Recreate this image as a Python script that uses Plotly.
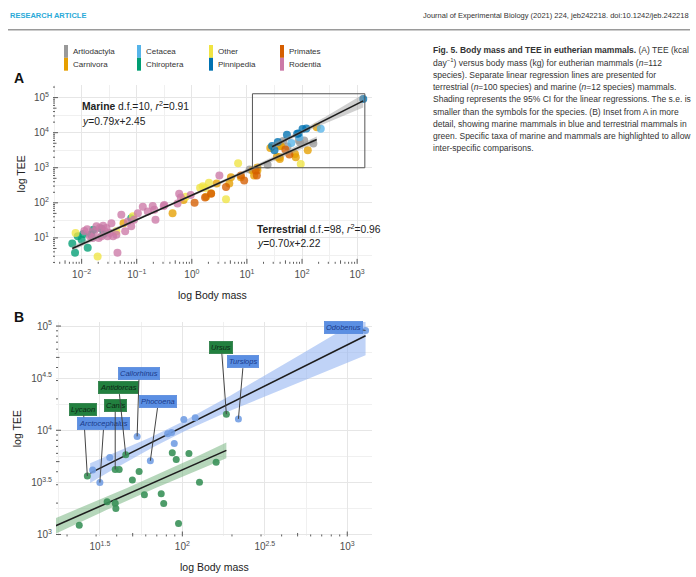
import numpy as np
import plotly.graph_objects as go

# ---------------- species data: log10 body mass (kg), log10 TEE (kcal/day) ----------------
artiodactyla_mass = [1.05, 1.375, 1.657, 1.738, 1.939, 1.963, 2.040, 2.205]
artiodactyla_tee = [2.95, 3.089, 3.764, 3.605, 3.783, 3.719, 3.777, 3.694]

carnivora_mass = [-1.24, -0.35, -0.15, 0.26, 0.35, 0.45, 0.68, 0.71, 0.89, 1.10, 1.13, 1.19, 1.19,
                  1.424, 1.544, 1.593, 1.593, 1.597, 1.617, 1.872, 1.887, 2.104, 2.267]
carnivora_tee = [1.42, 1.70, 2.08, 2.17, 2.27, 2.55, 2.55, 2.73, 2.73, 2.92, 2.78, 2.92, 3.01,
                 3.561, 3.314, 3.624, 3.30, 3.25, 3.624, 3.390, 3.298, 3.501, 4.154]

cetacea_mass = [1.806, 1.951, 2.340]
cetacea_tee = [3.707, 3.872, 4.109]

chiroptera_mass = [-2.17, -2.12, -2.07, -2.00, -1.97, -1.89, -1.79, -1.64, -1.60, -1.10, -1.83]
chiroptera_tee = [0.84, 0.58, 1.05, 0.95, 1.11, 0.72, 1.23, 1.26, 1.12, 1.56, 1.10]

other_mass = [-2.11, -1.71, -1.37, -1.07, -0.11, 0.15, 0.20, 0.24, 0.31, 0.62, 0.84, 1.977]
other_tee = [1.14, 0.47, 1.19, 1.62, 2.17, 2.43, 2.47, 2.42, 2.57, 2.10, 3.13, 3.105]

pinnipedia_mass = [1.456, 1.50, 1.56, 1.726, 1.911, 1.935, 2.009, 2.078, 3.111]
pinnipedia_tee = [3.618, 3.498, 3.738, 3.941, 3.967, 3.979, 4.103, 4.119, 4.958]

primates_mass = [0.05, 0.24, 0.35, 0.62, 0.89, 0.95, 1.16, 1.18, 1.697, 1.770]
primates_tee = [2.00, 2.15, 2.26, 2.45, 2.78, 2.64, 2.92, 2.78, 3.523, 3.380]

rodentia_mass = [-1.95, -1.90, -1.85, -1.80, -1.77, -1.73, -1.69, -1.67, -1.64, -1.61,
                 -1.58, -1.55, -1.53, -1.49, -1.46, -1.43, -1.37, -1.35, -1.28, -1.21,
                 -1.16, -1.10, -1.05, -0.98, -0.89, -0.80, -0.71, -0.68, -0.66, -0.51,
                 -0.50, -0.26, -0.23, -0.20, -0.02, 0.50]
rodentia_tee = [1.20, 1.25, 1.05, 1.00, 1.19, 1.33, 1.00, 1.28, 1.05, 1.35,
                1.18, 1.28, 1.05, 1.14, 1.42, 1.05, 1.09, 0.58, 1.66, 1.19,
                1.47, 1.33, 1.52, 1.70, 1.89, 1.75, 1.91, 1.80, 1.52, 1.91,
                1.94, 1.98, 2.26, 2.15, 2.22, 2.78]

orders = ["Artiodactyla", "Carnivora", "Cetacea", "Chiroptera",
          "Other", "Pinnipedia", "Primates", "Rodentia"]
order_mass = [artiodactyla_mass, carnivora_mass, cetacea_mass, chiroptera_mass,
              other_mass, pinnipedia_mass, primates_mass, rodentia_mass]
order_tee = [artiodactyla_tee, carnivora_tee, cetacea_tee, chiroptera_tee,
             other_tee, pinnipedia_tee, primates_tee, rodentia_tee]
marine_orders = ["Cetacea", "Pinnipedia"]

# regression fits (log TEE = slope * log mass + intercept)
marine_fit = dict(slope=0.79, intercept=2.45, df=10, r2=0.91)
terrestrial_fit = dict(slope=0.70, intercept=2.22, df=98, r2=0.96)

# highlighted genera in panel B
taxon_names = ["Lycaon", "Arctocephalus", "Canis", "Antidorcas", "Callorhinus",
               "Phocoena", "Ursus", "Tursiops", "Odobenus"]
taxon_mass = [1.424, 1.50, 1.593, 1.657, 1.726, 1.806, 2.267, 2.340, 3.111]
taxon_tee = [3.561, 3.498, 3.624, 3.764, 3.941, 3.707, 4.154, 4.109, 4.958]
taxon_marine = [False, True, False, False, True, True, False, True, True]

# ---------------- styling ----------------
W, H = 696, 577
FONT = "Liberation Sans, Arial, sans-serif"
order_colors = ["#999999", "#E69F00", "#56B4E9", "#009E73",
                "#F0E442", "#0072B2", "#D55E00", "#CC79A7"]
marine_col = "#739fe3"
terr_col = "#3a9159"
label_offsets = [(-4, -67), (4, -59), (0, -64), (-7, -67), (2, -63),
                 (8, -59), (-5, -67), (5, -57), (-22, -3)]

# panel geometry in pixels: (left, right, top, bottom)
A_box = (53, 372, 83, 264)
B_box = (56, 372, 323, 540)
A_xrange, A_yrange = [-2.52, 3.27], [0.262, 5.36]
B_xrange, B_yrange = [1.234, 3.15], [2.981, 5.038]


def px_x(p):
    return p / W


def px_y(p):
    return 1 - p / H


def ci_halfwidth(x, xc, h0, w):
    return h0 * np.sqrt(1 + ((x - xc) / w) ** 2)


fig = go.Figure()

# ---------------- panel A ----------------
for name, xs, ys, col in zip(orders, order_mass, order_tee, order_colors):
    fig.add_trace(go.Scatter(
        x=10 ** np.array(xs), y=10 ** np.array(ys), mode="markers", name=name,
        marker=dict(color=col, size=8, opacity=0.78, line=dict(width=0)),
        xaxis="x", yaxis="y", showlegend=False))

all_marine_x = np.concatenate([order_mass[orders.index(o)] for o in marine_orders])
all_terr_x = np.concatenate([order_mass[i] for i, o in enumerate(orders) if o not in marine_orders])


def add_fit(fit, xmin, xmax, band, xa, ya, band_col, npts=60):
    lx = np.linspace(xmin, xmax, npts)
    ly = fit["slope"] * lx + fit["intercept"]
    hw = ci_halfwidth(lx, *band)
    fig.add_trace(go.Scatter(
        x=np.concatenate([10 ** lx, 10 ** lx[::-1]]),
        y=np.concatenate([10 ** (ly + hw), 10 ** (ly - hw)[::-1]]),
        fill="toself", fillcolor=band_col, line=dict(width=0), mode="lines",
        hoverinfo="skip", xaxis=xa, yaxis=ya, showlegend=False))
    fig.add_trace(go.Scatter(
        x=10 ** lx, y=10 ** ly, mode="lines", line=dict(color="#1e1e1e", width=1.6),
        xaxis=xa, yaxis=ya, showlegend=False))


add_fit(terrestrial_fit, all_terr_x.min(), all_terr_x.max(), (-0.3, 0.02, 0.6), "x", "y",
        "rgba(150,150,150,0.45)")
add_fit(marine_fit, all_marine_x.min(), all_marine_x.max(), (1.95, 0.05, 0.32), "x", "y",
        "rgba(150,150,150,0.45)")

# ---------------- panel B ----------------
b_mx, b_my, b_tx, b_ty = [], [], [], []
for name, xs, ys in zip(orders, order_mass, order_tee):
    for x, y in zip(xs, ys):
        if x < B_xrange[0]:
            continue
        if name in marine_orders:
            b_mx.append(x); b_my.append(y)
        else:
            b_tx.append(x); b_ty.append(y)

add_fit(marine_fit, all_marine_x.min() - 0.015, all_marine_x.max(), (1.95, 0.05, 0.32), "x2", "y2",
        "rgba(140,175,240,0.55)")
add_fit(terrestrial_fit, B_xrange[0] - 0.05, all_terr_x.max(), (1.75, 0.06, 0.7), "x2", "y2",
        "rgba(110,175,120,0.5)")

fig.add_trace(go.Scatter(x=10 ** np.array(b_mx), y=10 ** np.array(b_my), mode="markers",
                         marker=dict(color=marine_col, size=7, opacity=0.9),
                         xaxis="x2", yaxis="y2", showlegend=False))
fig.add_trace(go.Scatter(x=10 ** np.array(b_tx), y=10 ** np.array(b_ty), mode="markers",
                         marker=dict(color=terr_col, size=7, opacity=0.9),
                         xaxis="x2", yaxis="y2", showlegend=False))

annotations = []
shapes = []

for name, lx, ly, marine, (dx, dy) in zip(taxon_names, taxon_mass, taxon_tee, taxon_marine, label_offsets):
    annotations.append(dict(
        x=lx, y=ly, xref="x2", yref="y2", text=f"<i>{name}</i>",
        showarrow=True, arrowhead=0, arrowwidth=1, arrowcolor="#444", ax=dx, ay=dy,
        bgcolor="#5b8fe3" if marine else "#22803f",
        bordercolor="#4a7fd6" if marine else "#1d7038", borderwidth=0.5, borderpad=1.5,
        font=dict(family=FONT, size=7.5, color="#1a3a8a" if marine else "#0c2614")))

# ---------------- axes ----------------
tick_font = dict(family=FONT, size=10, color="#4d4d4d")


def log_axis(domain, rng, tickvals, ticktext, minor_vals, anchor):
    return dict(
        type="log", domain=domain, range=rng, anchor=anchor,
        tickvals=tickvals, ticktext=ticktext, ticks="", tickfont=tick_font,
        showgrid=True, gridcolor="#e6e6e6", gridwidth=1, zeroline=False, showline=False,
        minor=dict(tickvals=minor_vals, showgrid=True, gridcolor="#f0f0f0", gridwidth=1, ticks=""),
        ticklabelstandoff=3, fixedrange=True)


def pow_label(e):
    s = f"{e:g}".replace("-", "\u2212")
    return f"10<sup>{s}</sup>"


A_xt = [-2, -1, 0, 1, 2, 3]
A_yt = [1, 2, 3, 4, 5]
B_xt = [1.5, 2.0, 2.5, 3.0]
B_yt = [3.0, 3.5, 4.0, 4.5, 5.0]

fig.update_layout(
    xaxis=log_axis([px_x(A_box[0]), px_x(A_box[1])], A_xrange,
                   [10.0 ** e for e in A_xt], [pow_label(e) for e in A_xt],
                   [10 ** (e + 0.5) for e in range(-3, 4)], "y"),
    yaxis=log_axis([px_y(A_box[3]), px_y(A_box[2])], A_yrange,
                   [10.0 ** e for e in A_yt], [pow_label(e) for e in A_yt],
                   [10 ** (e + 0.5) for e in range(0, 6)], "x"),
    xaxis2=log_axis([px_x(B_box[0]), px_x(B_box[1])], B_xrange,
                    [10.0 ** e for e in B_xt], [pow_label(e) for e in B_xt],
                    [10 ** (e + 0.25) for e in [1.0, 1.5, 2.0, 2.5, 3.0]], "y2"),
    yaxis2=log_axis([px_y(B_box[3]), px_y(B_box[2])], B_yrange,
                    [10.0 ** e for e in B_yt], [pow_label(e) for e in B_yt],
                    [10 ** (e + 0.25) for e in [2.5, 3.0, 3.5, 4.0, 4.5]], "x2"),
)


# log tick marks along the bottom and left edges of each panel
def add_logticks(xa, ya, xr, yr, box):
    wpx, hpx = box[1] - box[0], box[3] - box[2]
    for d in range(int(np.floor(xr[0])), int(np.ceil(xr[1])) + 1):
        for k in range(1, 10):
            v = k * 10.0 ** d
            if not (xr[0] <= np.log10(v) <= xr[1]):
                continue
            L = 5 if k == 1 else (3.5 if k == 5 else 2)
            shapes.append(dict(type="line", xref=xa, yref=f"{ya} domain", x0=v, x1=v,
                               y0=0, y1=L / hpx, line=dict(color="#333", width=0.8)))
    for d in range(int(np.floor(yr[0])), int(np.ceil(yr[1])) + 1):
        for k in range(1, 10):
            v = k * 10.0 ** d
            if not (yr[0] <= np.log10(v) <= yr[1]):
                continue
            L = 5 if k == 1 else (3.5 if k == 5 else 2)
            shapes.append(dict(type="line", xref=f"{xa} domain", yref=ya, x0=0, x1=L / wpx,
                               y0=v, y1=v, line=dict(color="#333", width=0.8)))


add_logticks("x", "y", A_xrange, A_yrange, A_box)
add_logticks("x2", "y2", B_xrange, B_yrange, B_box)

# inset outline in panel A (region shown in B)
shapes.append(dict(type="rect", xref="x", yref="y", x0=10 ** 1.10, x1=10 ** 3.14,
                   y0=10 ** 3.0, y1=10 ** 5.11, line=dict(color="#555", width=1)))

# header rule
shapes.append(dict(type="line", xref="paper", yref="paper", x0=px_x(8), x1=px_x(690),
                   y0=px_y(27), y1=px_y(27), line=dict(color="#9a9a9a", width=1.5)))


def text(x, y, s, size=10, color="#1a1a1a", anchor="left", angle=0, yanchor="middle"):
    annotations.append(dict(x=px_x(x), y=px_y(y), xref="paper", yref="paper", text=s,
                            showarrow=False, xanchor=anchor, yanchor=yanchor, textangle=angle,
                            font=dict(family=FONT, size=size, color=color)))


# header
text(8, 13, "<b>RESEARCH ARTICLE</b>", 7.5, "#2aaad8")
text(691, 13, "Journal of Experimental Biology (2021) 224, jeb242218. doi:10.1242/jeb.242218",
     7.5, "#333", anchor="right")

# panel letters
text(12, 76, "<b>A</b>", 14, "#111")
text(12, 318, "<b>B</b>", 14, "#111")

# axis titles
text(21, (A_box[2] + A_box[3]) / 2, "log TEE", 10.5, "#222", anchor="center", angle=-90)
text((A_box[0] + A_box[1]) / 2, 296, "log Body mass", 10.5, "#222", anchor="center")
text(17, (B_box[2] + B_box[3]) / 2, "log TEE", 10.5, "#222", anchor="center", angle=-90)
text((B_box[0] + B_box[1]) / 2, 571, "log Body mass", 10.5, "#222", anchor="center")

# regression statistics
text(80, 104, f"<b>Marine</b> d.f.={marine_fit['df']}, <i>r</i><sup>2</sup>={marine_fit['r2']:.2f}",
     10.3, "#222")
text(80, 120, f"<i>y</i>={marine_fit['slope']:.2f}<i>x</i>+{marine_fit['intercept']:.2f}", 10.3, "#222")
text(255, 228, f"<b>Terrestrial</b> d.f.={terrestrial_fit['df']}, "
               f"<i>r</i><sup>2</sup>={terrestrial_fit['r2']:.2f}", 10.3, "#222")
text(255, 243, f"<i>y</i>={terrestrial_fit['slope']:.2f}<i>x</i>+{terrestrial_fit['intercept']:.2f}",
     10.3, "#222")

# order legend (two rows per column)
legend_cols_x = [64, 137, 209, 280]
legend_rows_y = [49, 62]
for i, (name, col) in enumerate(zip(orders, order_colors)):
    cx = legend_cols_x[i // 2]
    ry = legend_rows_y[i % 2]
    shapes.append(dict(type="rect", xref="paper", yref="paper",
                       x0=px_x(cx), x1=px_x(cx + 4), y0=px_y(ry + 6.5), y1=px_y(ry - 6.5),
                       fillcolor=col, line=dict(width=0)))
    text(cx + 7, ry, name, 8, "#333")

# figure caption
caption = [
    "<b>Fig. 5. Body mass and TEE in eutherian mammals.</b> (A) TEE (kcal",
    "day<sup>\u22121</sup>) versus body mass (kg) for eutherian mammals (<i>n</i>=112",
    "species). Separate linear regression lines are presented for",
    "terrestrial (<i>n</i>=100 species) and marine (<i>n</i>=12 species) mammals.",
    "Shading represents the 95% CI for the linear regressions. The s.e. is",
    "smaller than the symbols for the species. (B) Inset from A in more",
    "detail, showing marine mammals in blue and terrestrial mammals in",
    "green. Specific taxa of marine and mammals are highlighted to allow",
    "inter-specific comparisons.",
]
for i, line in enumerate(caption):
    text(431, 48 + i * 12.4, line, 8.5, "#333")

fig.update_layout(
    width=W, height=H, margin=dict(l=0, r=0, t=0, b=0),
    paper_bgcolor="white", plot_bgcolor="white",
    shapes=shapes, annotations=annotations, showlegend=False,
    font=dict(family=FONT),
)

fig.write_html("out.html")
